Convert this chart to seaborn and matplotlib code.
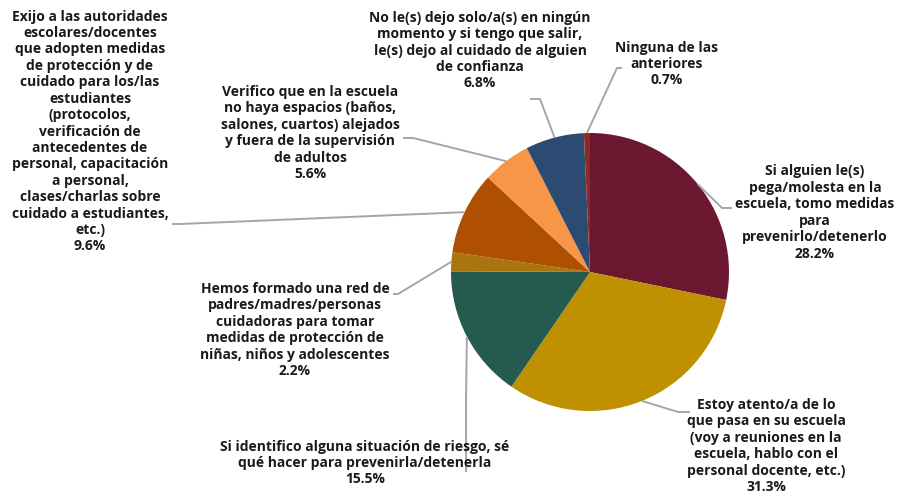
import numpy as np
import matplotlib
matplotlib.use("Agg")
import matplotlib.pyplot as plt
import seaborn as sns

# Shares of each response (percent), in clockwise order from 12 o'clock
categories = [
    "Si alguien le(s)\npega/molesta en la\nescuela, tomo medidas\npara\nprevenirlo/detenerlo",
    "Estoy atento/a de lo\nque pasa en su escuela\n(voy a reuniones en la\nescuela, hablo con el\npersonal docente, etc.)",
    "Si identifico alguna situación de riesgo, sé\nqué hacer para prevenirla/detenerla",
    "Hemos formado una red de\npadres/madres/personas\ncuidadoras para tomar\nmedidas de protección de\nniñas, niños y adolescentes",
    "Exijo a las autoridades\nescolares/docentes\nque adopten medidas\nde protección y de\ncuidado para los/las\nestudiantes\n(protocolos,\nverificación de\nantecedentes de\npersonal, capacitación\na personal,\nclases/charlas sobre\ncuidado a estudiantes,\netc.)",
    "Verifico que en la escuela\nno haya espacios (baños,\nsalones, cuartos) alejados\ny fuera de la supervisión\nde adultos",
    "No le(s) dejo solo/a(s) en ningún\nmomento y si tengo que salir,\nle(s) dejo al cuidado de alguien\nde confianza",
    "Ninguna de las\nanteriores",
]
values = [28.2, 31.3, 15.5, 2.2, 9.6, 5.6, 6.8, 0.7]
colors = ["#6B1730", "#BF9000", "#245B4E", "#A9750F",
          "#AE5000", "#F79646", "#2B4B73", "#8A2B27"]

sns.set_theme(style="white")
plt.rcParams["font.family"] = ["Open Sans", "DejaVu Sans"]

W, H = 903, 495
fig = plt.figure(figsize=(W / 100, H / 100), dpi=100)
ax = fig.add_axes([0, 0, 1, 1])


def Y(y):
    # pixel row (from top) to axis y (from bottom)
    return H - y


cx, cy, R = 590, 272, 139
wedges, _ = ax.pie(values, colors=colors, startangle=90, counterclock=False,
                   center=(cx, Y(cy)), radius=R, frame=True,
                   wedgeprops=dict(linewidth=0))
ax.set_xlim(0, W)
ax.set_ylim(0, H)
ax.set_aspect("equal")
ax.axis("off")

# label block centre, leader-line bend point, leader-line end point (pixels)
layout = [
    ((815, 212.5), (722, 208), (732, 208)),
    ((766, 446), (678, 412), (690, 412)),
    ((365, 463), (466, 400), (466, 472)),
    ((295, 330), (398, 294), (393, 294)),
    ((90, 131.5), (180, 224), (172, 224)),
    ((310, 133), (413, 138), (403, 138)),
    ((480, 50.5), (540, 99), (530, 99)),
    ((667, 64), (617, 68), (622, 68)),
]

line_color = "#A6A6A6"
for w, cat, val, (pos, bend, end) in zip(wedges, categories, values, layout):
    ang = np.deg2rad((w.theta1 + w.theta2) / 2)
    sx = cx + R * np.cos(ang)
    sy = Y(cy) + R * np.sin(ang)
    ax.plot([sx, bend[0], end[0]], [sy, Y(bend[1]), Y(end[1])],
            color=line_color, lw=1.4, solid_capstyle="butt", zorder=1)
    ax.text(pos[0], Y(pos[1]), f"{cat}\n{val:.1f}%", ha="center", va="center",
            multialignment="center", fontsize=10, fontweight="bold",
            color="#1A1A1A", linespacing=1.22, zorder=3)

fig.savefig("out.png", dpi=100, facecolor="white")
